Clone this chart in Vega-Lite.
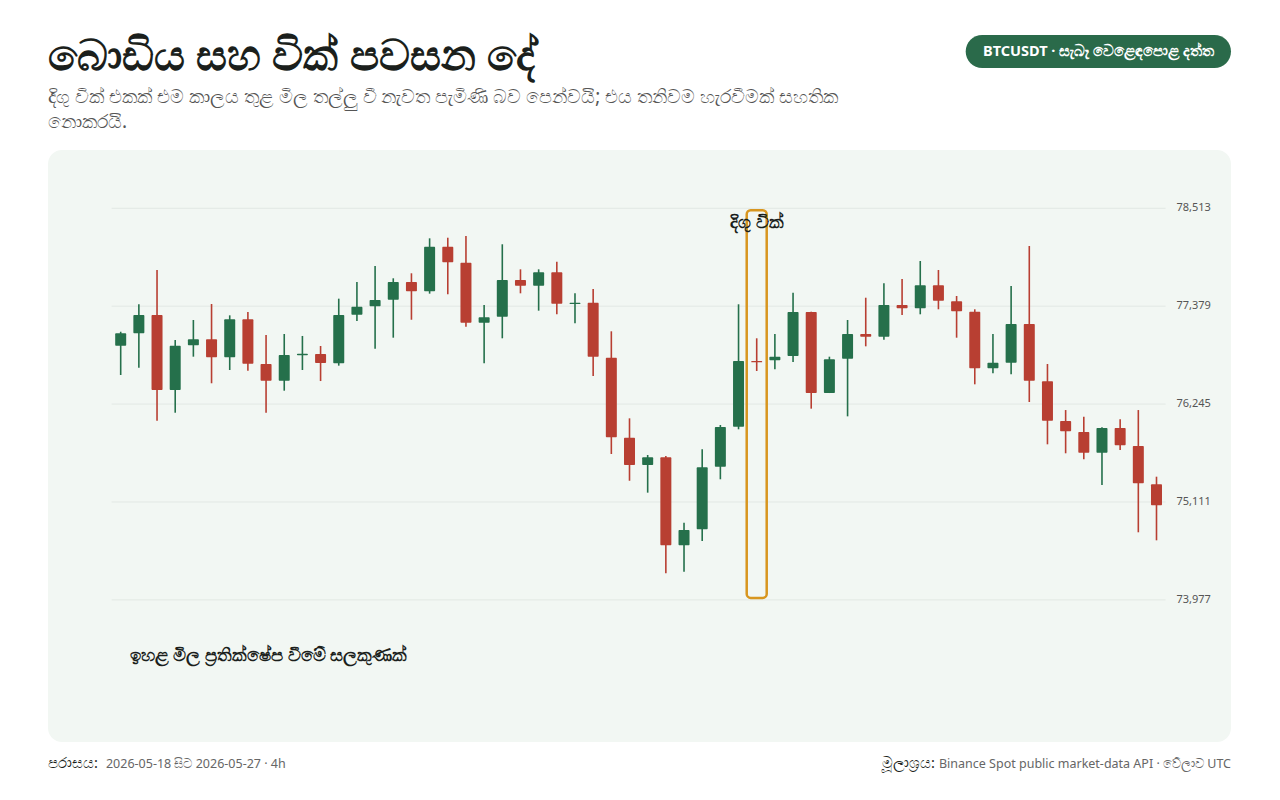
{
  "$schema": "https://vega.github.io/schema/vega-lite/v6.json",
  "width": 1183,
  "height": 592,
  "autosize": {"type": "none"},
  "padding": {"left": 48, "top": 150, "right": 49, "bottom": 58},
  "background": "#ffffff",
  "config": {
    "font": "Noto Sans",
    "view": {"fill": "#f2f7f3", "stroke": null, "cornerRadius": 14}
  },
  "title": {
    "text": "බොඩිය සහ වික් පවසන දේ",
    "subtitle": [
      "දිගු වික් එකක් එම කාලය තුළ මිල තල්ලු වී නැවත පැමිණි බව පෙන්වයි; එය තනිවම හැරවීමක් සහතික",
      "නොකරයි."
    ],
    "anchor": "start",
    "frame": "group",
    "fontSize": 43,
    "fontWeight": "bold",
    "color": "#1b1f1c",
    "subtitleFontSize": 19,
    "subtitleColor": "#555555",
    "subtitleLineHeight": 25,
    "subtitlePadding": 9,
    "offset": -97
  },
  "datasets": {
    "candles": [
      {"t": "2026-05-18T08:00", "i": 0, "open": 76921, "high": 77083, "low": 76582, "close": 77065},
      {"t": "2026-05-18T12:00", "i": 1, "open": 77065, "high": 77401, "low": 76666, "close": 77277},
      {"t": "2026-05-18T16:00", "i": 2, "open": 77277, "high": 77798, "low": 76053, "close": 76408},
      {"t": "2026-05-18T20:00", "i": 3, "open": 76408, "high": 76987, "low": 76145, "close": 76921},
      {"t": "2026-05-19T00:00", "i": 4, "open": 76926, "high": 77219, "low": 76794, "close": 76995},
      {"t": "2026-05-19T04:00", "i": 5, "open": 76995, "high": 77404, "low": 76486, "close": 76787},
      {"t": "2026-05-19T08:00", "i": 6, "open": 76787, "high": 77273, "low": 76640, "close": 77227},
      {"t": "2026-05-19T12:00", "i": 7, "open": 77227, "high": 77312, "low": 76632, "close": 76713},
      {"t": "2026-05-19T16:00", "i": 8, "open": 76709, "high": 77045, "low": 76145, "close": 76516},
      {"t": "2026-05-19T20:00", "i": 9, "open": 76516, "high": 77057, "low": 76400, "close": 76813},
      {"t": "2026-05-20T00:00", "i": 10, "open": 76810, "high": 77034, "low": 76640, "close": 76829},
      {"t": "2026-05-20T04:00", "i": 11, "open": 76825, "high": 76918, "low": 76512, "close": 76721},
      {"t": "2026-05-20T08:00", "i": 12, "open": 76717, "high": 77466, "low": 76690, "close": 77277},
      {"t": "2026-05-20T12:00", "i": 13, "open": 77280, "high": 77659, "low": 77207, "close": 77373},
      {"t": "2026-05-20T16:00", "i": 14, "open": 77378, "high": 77844, "low": 76886, "close": 77451},
      {"t": "2026-05-20T20:00", "i": 15, "open": 77454, "high": 77702, "low": 77014, "close": 77659},
      {"t": "2026-05-21T00:00", "i": 16, "open": 77659, "high": 77760, "low": 77222, "close": 77551},
      {"t": "2026-05-21T04:00", "i": 17, "open": 77551, "high": 78165, "low": 77524, "close": 78068},
      {"t": "2026-05-21T08:00", "i": 18, "open": 78068, "high": 78172, "low": 77517, "close": 77887},
      {"t": "2026-05-21T12:00", "i": 19, "open": 77883, "high": 78192, "low": 77141, "close": 77188},
      {"t": "2026-05-21T16:00", "i": 20, "open": 77188, "high": 77393, "low": 76717, "close": 77250},
      {"t": "2026-05-21T20:00", "i": 21, "open": 77257, "high": 78096, "low": 77007, "close": 77682},
      {"t": "2026-05-22T00:00", "i": 22, "open": 77682, "high": 77806, "low": 77528, "close": 77616},
      {"t": "2026-05-22T04:00", "i": 23, "open": 77616, "high": 77806, "low": 77327, "close": 77771},
      {"t": "2026-05-22T08:00", "i": 24, "open": 77771, "high": 77894, "low": 77285, "close": 77408},
      {"t": "2026-05-22T12:00", "i": 25, "open": 77404, "high": 77528, "low": 77181, "close": 77419},
      {"t": "2026-05-22T16:00", "i": 26, "open": 77419, "high": 77578, "low": 76570, "close": 76794},
      {"t": "2026-05-22T20:00", "i": 27, "open": 76782, "high": 77088, "low": 75667, "close": 75860},
      {"t": "2026-05-23T00:00", "i": 28, "open": 75856, "high": 76080, "low": 75357, "close": 75539},
      {"t": "2026-05-23T04:00", "i": 29, "open": 75539, "high": 75655, "low": 75219, "close": 75629},
      {"t": "2026-05-23T08:00", "i": 30, "open": 75629, "high": 75644, "low": 74285, "close": 74609},
      {"t": "2026-05-23T12:00", "i": 31, "open": 74609, "high": 74871, "low": 74303, "close": 74786},
      {"t": "2026-05-23T16:00", "i": 32, "open": 74795, "high": 75721, "low": 74659, "close": 75513},
      {"t": "2026-05-23T20:00", "i": 33, "open": 75520, "high": 76003, "low": 75374, "close": 75980},
      {"t": "2026-05-24T00:00", "i": 34, "open": 75983, "high": 77401, "low": 75953, "close": 76744},
      {"t": "2026-05-24T04:00", "i": 35, "open": 76744, "high": 77007, "low": 76628, "close": 76729},
      {"t": "2026-05-24T08:00", "i": 36, "open": 76752, "high": 77057, "low": 76648, "close": 76794},
      {"t": "2026-05-24T12:00", "i": 37, "open": 76802, "high": 77535, "low": 76732, "close": 77312},
      {"t": "2026-05-24T16:00", "i": 38, "open": 77312, "high": 77315, "low": 76192, "close": 76373},
      {"t": "2026-05-24T20:00", "i": 39, "open": 76373, "high": 76794, "low": 76373, "close": 76764},
      {"t": "2026-05-25T00:00", "i": 40, "open": 76771, "high": 77219, "low": 76103, "close": 77057},
      {"t": "2026-05-25T04:00", "i": 41, "open": 77057, "high": 77477, "low": 76914, "close": 77025},
      {"t": "2026-05-25T08:00", "i": 42, "open": 77025, "high": 77644, "low": 76991, "close": 77393},
      {"t": "2026-05-25T12:00", "i": 43, "open": 77393, "high": 77694, "low": 77277, "close": 77354},
      {"t": "2026-05-25T16:00", "i": 44, "open": 77354, "high": 77902, "low": 77285, "close": 77621},
      {"t": "2026-05-25T20:00", "i": 45, "open": 77621, "high": 77798, "low": 77343, "close": 77442},
      {"t": "2026-05-26T00:00", "i": 46, "open": 77436, "high": 77497, "low": 77014, "close": 77320},
      {"t": "2026-05-26T04:00", "i": 47, "open": 77315, "high": 77343, "low": 76474, "close": 76659},
      {"t": "2026-05-26T08:00", "i": 48, "open": 76659, "high": 77057, "low": 76601, "close": 76724},
      {"t": "2026-05-26T12:00", "i": 49, "open": 76724, "high": 77613, "low": 76590, "close": 77173},
      {"t": "2026-05-26T16:00", "i": 50, "open": 77173, "high": 78076, "low": 76269, "close": 76516},
      {"t": "2026-05-26T20:00", "i": 51, "open": 76509, "high": 76709, "low": 75779, "close": 76053},
      {"t": "2026-05-27T00:00", "i": 52, "open": 76049, "high": 76176, "low": 75675, "close": 75930},
      {"t": "2026-05-27T04:00", "i": 53, "open": 75922, "high": 76099, "low": 75605, "close": 75682},
      {"t": "2026-05-27T08:00", "i": 54, "open": 75682, "high": 75976, "low": 75308, "close": 75968},
      {"t": "2026-05-27T12:00", "i": 55, "open": 75968, "high": 76069, "low": 75713, "close": 75768},
      {"t": "2026-05-27T16:00", "i": 56, "open": 75759, "high": 76176, "low": 74760, "close": 75327},
      {"t": "2026-05-27T20:00", "i": 57, "open": 75316, "high": 75404, "low": 74667, "close": 75073}
    ],
    "ticks": [
      {"v": 73977}, {"v": 75111}, {"v": 76245}, {"v": 77379}, {"v": 78513}
    ]
  },
  "layer": [
    {
      "data": {"name": "ticks"},
      "mark": {"type": "rule", "color": "#e2e8e4", "strokeWidth": 1},
      "encoding": {
        "x": {"datum": -0.5, "type": "quantitative", "scale": {"domain": [-4, 61.1], "nice": false, "zero": false, "padding": 0}, "axis": null},
        "x2": {"datum": 57.5},
        "y": {"field": "v", "type": "quantitative", "scale": {"domain": [72331, 79188], "nice": false, "zero": false}, "axis": null}
      }
    },
    {
      "data": {"name": "ticks"},
      "mark": {"type": "text", "align": "left", "baseline": "middle", "fontSize": 11, "color": "#555555"},
      "encoding": {
        "x": {"datum": 58.1, "type": "quantitative", "scale": {"domain": [-4, 61.1], "nice": false, "zero": false, "padding": 0}, "axis": null},
        "y": {"field": "v", "type": "quantitative", "scale": {"domain": [72331, 79188], "nice": false, "zero": false}, "axis": null},
        "text": {"field": "v", "type": "quantitative", "format": ",d"}
      }
    },
    {
      "data": {"values": [{"i0": 34.45, "i1": 35.55, "top": 78490, "bottom": 74000}]},
      "mark": {"type": "rect", "fill": null, "stroke": "#d8961f", "strokeWidth": 2.5, "cornerRadius": 4},
      "encoding": {
        "x": {"field": "i0", "type": "quantitative", "scale": {"domain": [-4, 61.1], "nice": false, "zero": false, "padding": 0}, "axis": null},
        "x2": {"field": "i1"},
        "y": {"field": "top", "type": "quantitative", "scale": {"domain": [72331, 79188], "nice": false, "zero": false}, "axis": null},
        "y2": {"field": "bottom"}
      }
    },
    {
      "data": {"name": "candles"},
      "mark": {"type": "rule", "strokeWidth": 1.6},
      "encoding": {
        "x": {"field": "i", "type": "quantitative", "scale": {"domain": [-4, 61.1], "nice": false, "zero": false, "padding": 0}, "axis": null},
        "y": {"field": "low", "type": "quantitative", "scale": {"domain": [72331, 79188], "nice": false, "zero": false}, "axis": null},
        "y2": {"field": "high"},
        "color": {"condition": {"test": "datum.close >= datum.open", "value": "#25704b"}, "value": "#b83f32"}
      }
    },
    {
      "data": {"name": "candles"},
      "mark": {"type": "bar", "size": 11, "cornerRadius": 1},
      "encoding": {
        "x": {"field": "i", "type": "quantitative", "scale": {"domain": [-4, 61.1], "nice": false, "zero": false, "padding": 0}, "axis": null},
        "y": {"field": "open", "type": "quantitative", "scale": {"domain": [72331, 79188], "nice": false, "zero": false}, "axis": null},
        "y2": {"field": "close"},
        "color": {"condition": {"test": "datum.close >= datum.open", "value": "#25704b"}, "value": "#b83f32"}
      }
    },
    {
      "data": {"values": [{"x": 35, "y": 78342, "label": "දිගු වික්"}]},
      "mark": {"type": "text", "fontSize": 18, "fontWeight": "bold", "color": "#1b1f1c", "align": "center", "baseline": "middle"},
      "encoding": {
        "x": {"field": "x", "type": "quantitative", "scale": {"domain": [-4, 61.1], "nice": false, "zero": false, "padding": 0}, "axis": null},
        "y": {"field": "y", "type": "quantitative", "scale": {"domain": [72331, 79188], "nice": false, "zero": false}, "axis": null},
        "text": {"field": "label"}
      }
    },
    {
      "data": {"values": [{"x": 0.5, "y": 73327, "label": "ඉහළ මිල ප්‍රතික්ෂේප වීමේ සලකුණක්"}]},
      "mark": {"type": "text", "fontSize": 18, "fontWeight": "bold", "color": "#1b1f1c", "align": "left", "baseline": "middle"},
      "encoding": {
        "x": {"field": "x", "type": "quantitative", "scale": {"domain": [-4, 61.1], "nice": false, "zero": false, "padding": 0}, "axis": null},
        "y": {"field": "y", "type": "quantitative", "scale": {"domain": [72331, 79188], "nice": false, "zero": false}, "axis": null},
        "text": {"field": "label"}
      }
    },
    {
      "data": {"values": [{"x": 46.5, "x2": 61.1, "top": 80520, "bottom": 80138}]},
      "mark": {"type": "rect", "fill": "#2a6a4a", "cornerRadius": 17},
      "encoding": {
        "x": {"field": "x", "type": "quantitative", "scale": {"domain": [-4, 61.1], "nice": false, "zero": false, "padding": 0}, "axis": null},
        "x2": {"field": "x2"},
        "y": {"field": "top", "type": "quantitative", "scale": {"domain": [72331, 79188], "nice": false, "zero": false}, "axis": null},
        "y2": {"field": "bottom"}
      }
    },
    {
      "data": {"values": [{"x": 53.8, "y": 80323, "label": "BTCUSDT · සැබෑ වෙළෙඳපොළ දත්ත"}]},
      "mark": {"type": "text", "fontSize": 14.5, "fontWeight": "bold", "color": "#ffffff", "align": "center", "baseline": "middle"},
      "encoding": {
        "x": {"field": "x", "type": "quantitative", "scale": {"domain": [-4, 61.1], "nice": false, "zero": false, "padding": 0}, "axis": null},
        "y": {"field": "y", "type": "quantitative", "scale": {"domain": [72331, 79188], "nice": false, "zero": false}, "axis": null},
        "text": {"field": "label"}
      }
    },
    {
      "data": {"values": [
        {"x": -4, "y": 72076, "label": "පරාසය:", "part": "key"},
        {"x": -0.81, "y": 72076, "label": "2026-05-18 සිට 2026-05-27 · 4h", "part": "val"}
      ]},
      "mark": {"type": "text", "align": "left", "baseline": "middle"},
      "encoding": {
        "x": {"field": "x", "type": "quantitative", "scale": {"domain": [-4, 61.1], "nice": false, "zero": false, "padding": 0}, "axis": null},
        "y": {"field": "y", "type": "quantitative", "scale": {"domain": [72331, 79188], "nice": false, "zero": false}, "axis": null},
        "text": {"field": "label"},
        "color": {"condition": {"test": "datum.part === 'key'", "value": "#1b1f1c"}, "value": "#666666"},
        "fontWeight": {"condition": {"test": "datum.part === 'key'", "value": "bold"}, "value": "normal"},
        "size": {"condition": {"test": "datum.part === 'key'", "value": 14.5}, "value": 12.5}
      }
    },
    {
      "data": {"values": [
        {"x": 44.8, "y": 72076, "label": "මූලාශ්‍රය:", "part": "key"},
        {"x": 61.1, "y": 72076, "label": "Binance Spot public market-data API · වේලාව UTC", "part": "val"}
      ]},
      "mark": {"type": "text", "align": "right", "baseline": "middle"},
      "encoding": {
        "x": {"field": "x", "type": "quantitative", "scale": {"domain": [-4, 61.1], "nice": false, "zero": false, "padding": 0}, "axis": null},
        "y": {"field": "y", "type": "quantitative", "scale": {"domain": [72331, 79188], "nice": false, "zero": false}, "axis": null},
        "text": {"field": "label"},
        "color": {"condition": {"test": "datum.part === 'key'", "value": "#1b1f1c"}, "value": "#666666"},
        "fontWeight": {"condition": {"test": "datum.part === 'key'", "value": "bold"}, "value": "normal"},
        "size": {"condition": {"test": "datum.part === 'key'", "value": 14.5}, "value": 12.5}
      }
    }
  ]
}
